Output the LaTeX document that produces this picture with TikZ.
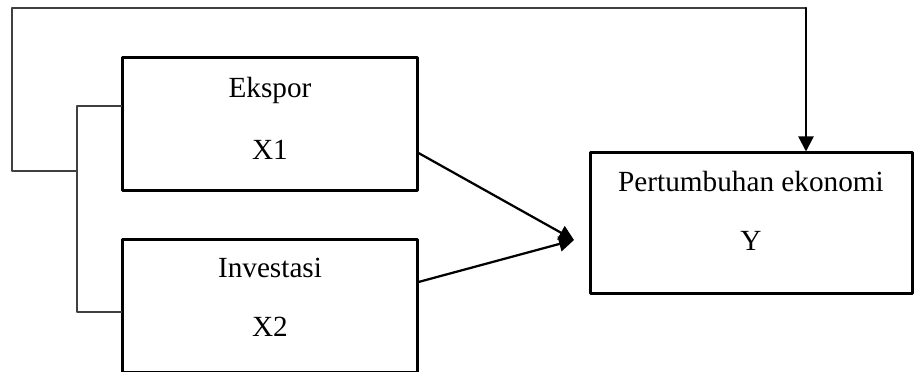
\documentclass[tikz,border=0pt]{standalone}
\usepackage{fontspec}
\setmainfont{Liberation Serif}
\usetikzlibrary{arrows.meta}
\definecolor{sqsqsq}{rgb}{0.25,0.25,0.25}
\tikzset{
  kotak/.style={draw,line width=1.2pt,rectangle,inner sep=0pt},
  teks/.style={anchor=base,inner sep=0pt,font=\fontsize{11.7}{14}\selectfont},
  garis/.style={line width=0.45pt,color=sqsqsq},
  panah/.style={line width=0.9pt,-{Triangle[length=6pt,width=6pt]}}
}
\begin{document}
\begin{tikzpicture}[line cap=round,line join=round,x=0.4pt,y=-0.4pt]
    \clip(0,0) rectangle (914,372);
    \fill[white] (0,0) rectangle (914,372);
    \node [kotak,minimum width=117.6pt,minimum height=53.2pt] (ekspor) at (270,124.5) {};
    \node [kotak,minimum width=117.6pt,minimum height=53.2pt] (investasi) at (270,306.5) {};
    \node [kotak,minimum width=128.8pt,minimum height=56.4pt] (pertumbuhan) at (751,223.5) {};
    \node [teks] (ekspor1) at (270,98) {Ekspor};
    \node [teks] (ekspor2) at (270,160) {X1};
    \node [teks] (investasi1) at (270,278) {Investasi};
    \node [teks] (investasi2) at (270,337) {X2};
    \node [teks] (pertumbuhan1) at (751,192) {Pertumbuhan ekonomi};
    \node [teks] (pertumbuhan2) at (751,251) {Y};
    \coordinate (b1) at (77,106);
    \coordinate (b2) at (77,312);
    \coordinate (b3) at (77,171);
    \coordinate (c1) at (12,171);
    \coordinate (c2) at (12,8);
    \coordinate (c3) at (806,8);
    \coordinate (temu) at (574,240);
    \draw [garis] (ekspor.west |- b1) -- (b1) -- (b2) -- (investasi.west |- b2);
    \draw [garis] (b3) -- (c1) -- (c2) -- (c3);
    \draw [panah] (c3) -- (pertumbuhan.north -| c3);
    \draw [panah] (ekspor.east |- 0,153) -- (temu);
    \draw [panah] (investasi.east |- 0,282) -- (temu);
\end{tikzpicture}
\end{document}
